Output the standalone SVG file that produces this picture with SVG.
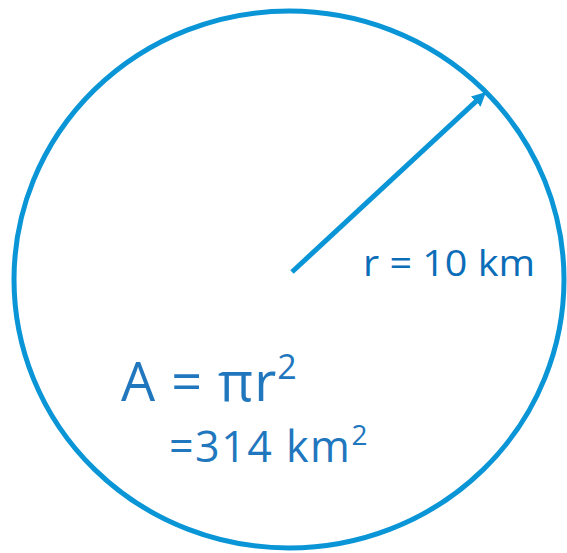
<svg xmlns="http://www.w3.org/2000/svg" width="567" height="553" viewBox="0 0 567 553">
<style>
.formula{font-family:"Open Sans","Liberation Sans",sans-serif;fill:#2177BE;font-weight:400}
.label{font-family:"Open Sans","Liberation Sans",sans-serif;fill:#0B6DB8}
</style>
<defs>
<marker id="head" markerUnits="userSpaceOnUse" markerWidth="16" markerHeight="16" refX="4" refY="7" orient="auto">
<path d="M0,0 L14,7 L0,14 z" fill="#0A95D6"/>
</marker>
</defs>
<rect width="567" height="553" fill="#ffffff"/>
<g id="circle">
<ellipse cx="289" cy="279.5" rx="275" ry="268.5" fill="none" stroke="#0A95D6" stroke-width="5"/>
</g>
<g id="connectors">
<line x1="292" y1="272" x2="478.7" y2="98.8" stroke="#0A95D6" stroke-width="5" marker-end="url(#head)"/>
</g>
<g id="radius-label">
<text class="label" x="363" y="276" font-size="36" textLength="172" lengthAdjust="spacingAndGlyphs">r = 10 km</text>
</g>
<g id="formula">
<text class="formula" x="121" y="401" font-size="54" letter-spacing="1">A = πr<tspan font-size="34" dy="-22">2</tspan></text>
<text class="formula" x="169" y="462" font-size="43" letter-spacing="1.5">=314 km<tspan font-size="28" dy="-17">2</tspan></text>
</g>
</svg>
